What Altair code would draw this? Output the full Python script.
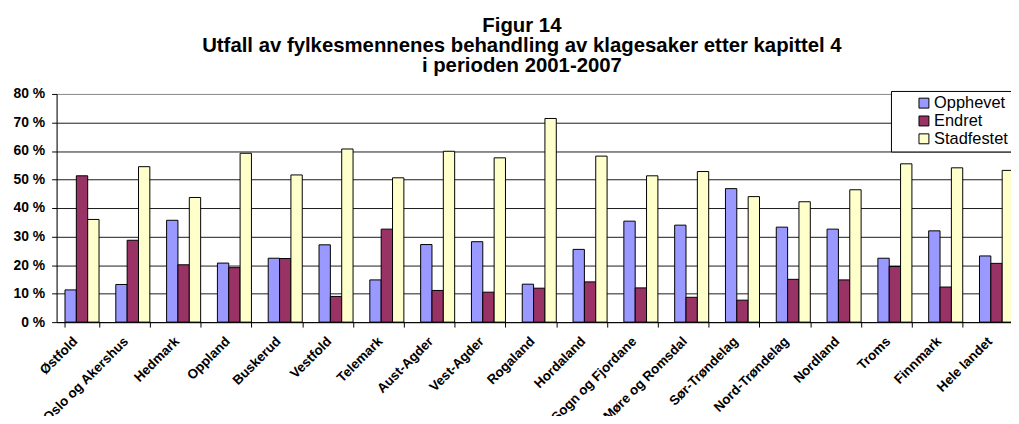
import altair as alt
import pandas as pd

categories = ["Østfold", "Oslo og Akershus", "Hedmark", "Oppland", "Buskerud",
              "Vestfold", "Telemark", "Aust-Agder", "Vest-Agder", "Rogaland",
              "Hordaland", "Sogn og Fjordane", "Møre og Romsdal", "Sør-Trøndelag",
              "Nord-Trøndelag", "Nordland", "Troms", "Finnmark", "Hele landet"]
opphevet = [11.3, 13.2, 35.7, 20.7, 22.4, 27.1, 14.8, 27.2, 28.2, 13.3,
            25.5, 35.4, 34.0, 46.8, 33.3, 32.6, 22.4, 32.0, 23.2]
endret = [51.3, 28.7, 20.1, 19.1, 22.3, 9.0, 32.6, 11.1, 10.5, 11.9,
          14.1, 12.0, 8.7, 7.7, 15.0, 14.8, 19.5, 12.3, 20.6]
stadfestet = [36.0, 54.5, 43.7, 59.2, 51.6, 60.7, 50.6, 59.9, 57.6, 71.4,
              58.2, 51.3, 52.8, 44.0, 42.2, 46.4, 55.5, 54.1, 53.2]
series = ["Opphevet", "Endret", "Stadfestet"]
colors = ["#9999FF", "#993366", "#FFFFCC"]
y_ticks = [0, 10, 20, 30, 40, 50, 60, 70, 80]
title_lines = ["Figur 14",
               "Utfall av fylkesmennenes behandling av klagesaker etter kapittel 4",
               "i perioden 2001-2007"]

rows = []
for name, vals in zip(series, [opphevet, endret, stadfestet]):
    for c, v in zip(categories, vals):
        rows.append({"Fylke": c, "Serie": name, "Verdi": v})
df = pd.DataFrame(rows)

FONT = "Liberation Sans, Arial, sans-serif"

chart = alt.Chart(df).mark_bar(stroke="#000000", strokeWidth=1, clip=True).encode(
    x=alt.X("Fylke:N", sort=categories,
            scale=alt.Scale(range=[0, 973], paddingInner=0.33, paddingOuter=0.165),
            axis=alt.Axis(title=None, labelAngle=-45, labelAlign="right", labelBaseline="top",
                          labelFont=FONT, labelFontSize=13.5, labelFontWeight="bold",
                          labelColor="#000000", labelPadding=7, labelOffset=-12,
                          tickBand="extent", tickSize=5, tickColor="#000000",
                          domainColor="#000000", grid=False, labelOverlap=False,
                          labelLimit=0)),
    xOffset=alt.XOffset("Serie:N", sort=series,
                        scale=alt.Scale(paddingInner=0, paddingOuter=0)),
    y=alt.Y("Verdi:Q", scale=alt.Scale(domain=[0, 80], nice=False),
            axis=alt.Axis(title=None, values=y_ticks, labelExpr="datum.value + ' %'",
                          labelFont=FONT, labelFontSize=14, labelFontWeight="bold",
                          labelColor="#000000", labelPadding=7, tickSize=5,
                          tickColor="#000000", domainColor="#000000",
                          grid=True, gridWidth=1,
                          gridColor={"condition": {"test": "datum.value == 80", "value": "#8a8a8a"},
                                     "value": "#1a1a1a"})),
    color=alt.Color("Serie:N", sort=series,
                    scale=alt.Scale(domain=series, range=colors),
                    legend=alt.Legend(title=None, orient="none", legendX=841, legendY=-3,
                                      strokeColor="#000000", fillColor="#ffffff",
                                      padding=4, symbolType="square", symbolSize=100,
                                      symbolStrokeColor="#000000", symbolStrokeWidth=1,
                                      symbolOffset=21, labelFont=FONT, labelFontSize=16.5,
                                      labelColor="#000000", labelOffset=2, rowPadding=1,
                                      cornerRadius=0)),
).properties(
    width=962,
    height=230,
    title=alt.TitleParams(text=title_lines, fontSize=20.5, font=FONT, fontWeight="bold",
                          color="#000000", lineHeight=20, offset=11, anchor="middle",
                          dx=-12),
    autosize=alt.AutoSizeParams(type="none"),
    padding={"left": 49, "top": 85, "right": 0, "bottom": 93},
).configure_view(strokeWidth=0).configure(background="#ffffff")

chart.save("out.html", embed_options={"renderer": "svg", "actions": False})
